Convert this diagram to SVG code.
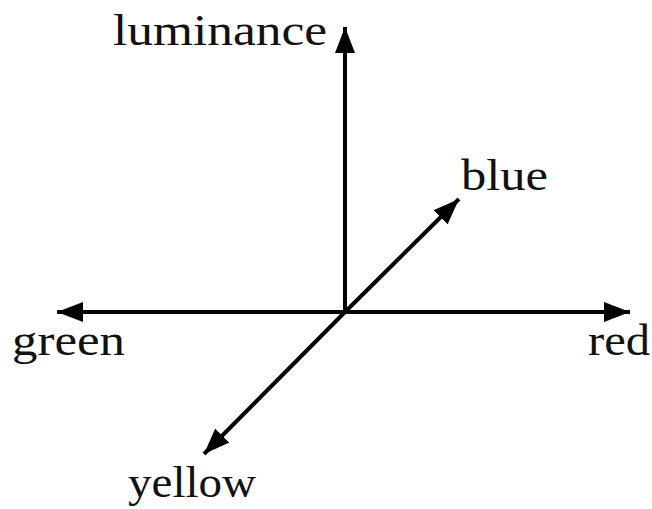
<svg xmlns="http://www.w3.org/2000/svg" width="652" height="509" viewBox="0 0 652 509">
<style>
.lbl{font-family:"Liberation Serif","DejaVu Serif",serif;font-size:44px;fill:#111}
.ax{stroke:#000;stroke-width:4;fill:none}
</style>
<defs>
<marker id="ah" markerUnits="userSpaceOnUse" markerWidth="28" markerHeight="22" refX="26" refY="11" orient="auto" viewBox="0 0 28 22">
<path d="M0,1 L26,11 L0,21 Z" fill="#000"/>
</marker>
</defs>
<g id="connectors">
<line class="ax" x1="345" y1="312" x2="345" y2="27" marker-end="url(#ah)"/>
<line class="ax" x1="345" y1="312" x2="57" y2="312" marker-end="url(#ah)"/>
<line class="ax" x1="345" y1="312" x2="630" y2="312" marker-end="url(#ah)"/>
<line class="ax" x1="345" y1="312" x2="459" y2="199" marker-end="url(#ah)"/>
<line class="ax" x1="345" y1="312" x2="204" y2="454" marker-end="url(#ah)"/>
</g>
<g id="luminance"><text class="lbl" x="113" y="45" textLength="214" lengthAdjust="spacingAndGlyphs">luminance</text></g>
<g id="blue"><text class="lbl" x="461" y="190" textLength="87" lengthAdjust="spacingAndGlyphs">blue</text></g>
<g id="green"><text class="lbl" x="12" y="355" textLength="113" lengthAdjust="spacingAndGlyphs">green</text></g>
<g id="red"><text class="lbl" x="588" y="355" textLength="62" lengthAdjust="spacingAndGlyphs">red</text></g>
<g id="yellow"><text class="lbl" x="128" y="497" textLength="128" lengthAdjust="spacingAndGlyphs">yellow</text></g>
</svg>
